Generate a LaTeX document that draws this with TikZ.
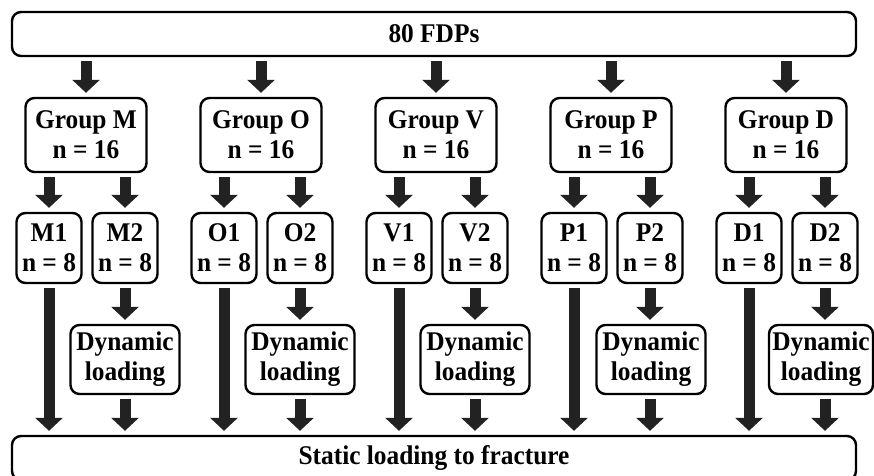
\documentclass[tikz,border=0pt]{standalone}
\usepackage{fontspec}
\setmainfont{Liberation Serif}[FakeStretch=0.94]
\usetikzlibrary{arrows.meta}
\definecolor{arr}{HTML}{222222}
\begin{document}
\begin{tikzpicture}[x=1pt,y=-1pt,
 box/.style={draw=black, line width=2.4pt, rounded corners=9pt, fill=white, align=center, inner sep=0pt, font=\fontsize{27}{30}\selectfont\bfseries},
 grp/.style={box, minimum width=121pt, minimum height=74pt},
 sub/.style={box, minimum width=65pt, minimum height=70pt},
 dyn/.style={box, minimum height=69pt},
 fat/.style={draw=arr, line width=11pt, -{Triangle[width=27pt,length=13pt]}, shorten <=4pt, shorten >=4pt},
]
\clip (0,0) rectangle (874,475);
\node[box, minimum width=844pt, minimum height=44pt] (top) at (434,34) {80 FDPs};
\node[box, minimum width=844pt, minimum height=44pt] (bot) at (434,458) {Static loading to fracture};
\foreach \i/\c/\L/\dx/\dw in {1/86/M/125/109,2/261/O/300/109,3/436/V/475/109,4/611/P/651/109,5/786/D/821/104} {
  \node[grp] (g\i) at (\c,135) {Group \L\\n = 16};
  \node[sub] (a\i) at (\c-37,248) {\L1\\n = 8};
  \node[sub] (b\i) at (\c+39,248) {\L2\\n = 8};
  \node[dyn, minimum width=\dw pt] (d\i) at (\dx,359.5) {Dynamic\\loading};
  \draw[fat] (top.south -| g\i) -- (g\i.north);
  \draw[fat] (g\i.south -| a\i) -- (a\i.north);
  \draw[fat] (g\i.south -| b\i) -- (b\i.north);
  \draw[fat] (a\i.south) -- (a\i.south |- bot.north);
  \draw[fat] (b\i.south) -- (b\i.south |- d\i.north);
  \draw[fat] (d\i.south -| b\i) -- (b\i.south |- bot.north);
}
\end{tikzpicture}
\end{document}
